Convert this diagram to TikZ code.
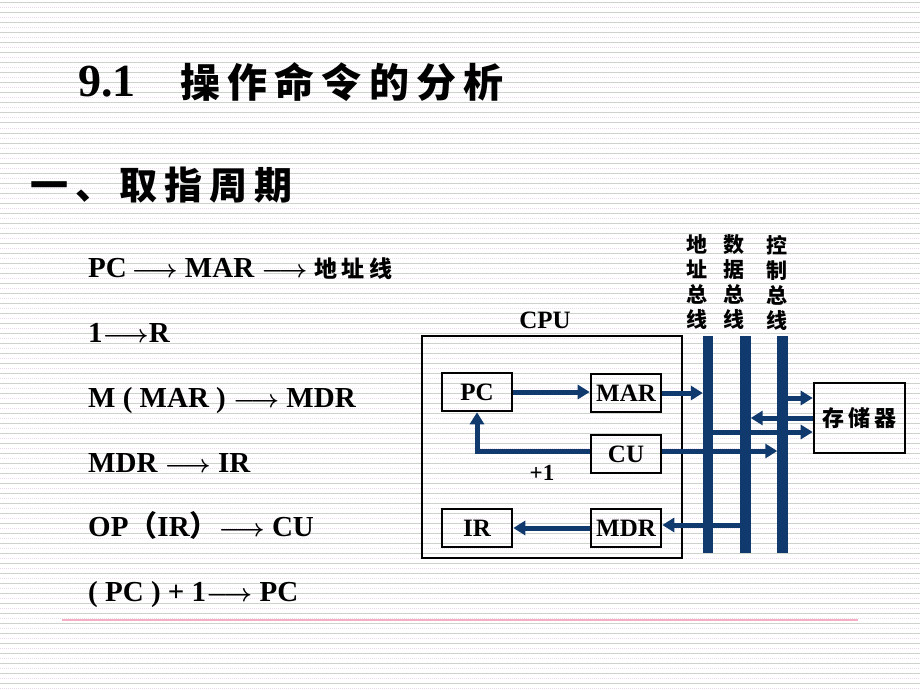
\documentclass[tikz,border=0pt]{standalone}
\usepackage{amsmath}
\usepackage{amssymb}
\usepackage{fontspec}
\setmainfont{Liberation Serif}
\newfontfamily\cjk{Noto Sans CJK SC}
\newfontfamily\cjkw{Noto Sans CJK SC}[LetterSpace=18]
\usepackage{tikz}
\usetikzlibrary{arrows.meta}
\definecolor{busblue}{RGB}{16,58,110}
\definecolor{ruleg}{RGB}{205,210,205}
\definecolor{rulep}{RGB}{238,218,238}
\definecolor{footpink}{RGB}{245,175,195}
\newcommand{\fsz}[1]{\fontsize{#1}{#1}\selectfont\bfseries}

\begin{document}
\begin{tikzpicture}[x=1pt,y=-1pt,
    reg/.style={draw,line width=2.6pt,minimum width=70pt,minimum height=38pt,inner sep=0pt,font=\fsz{25}},
    busbar/.style={minimum width=10pt,minimum height=217pt,inner sep=0pt},
    flow/.style={draw=busblue,line width=5pt,->,>={Triangle[length=12pt,width=14pt]}},
    txt/.style={anchor=base west,inner sep=0pt,font=\fsz{29}\boldmath},
    buslabel/.style={align=center,inner sep=0pt,font={\cjk\bfseries\fontsize{21}{25}\selectfont}}]
    \path[use as bounding box] (0,0) rectangle (920,690);
    \fill[white] (0,0) rectangle (920,690);
    \foreach \k in {0,...,68} {
        \draw[ruleg,line width=1pt] (0,10*\k+3) -- (920,10*\k+3);
        \draw[rulep,line width=1pt,densely dotted] (0,10*\k+8) -- (920,10*\k+8);
    }
    \draw[footpink,line width=1.2pt] (62,620) -- (858,620);
    % headings
    \node[txt,font=\fsz{46}] (T) at (78,97) {9.1};
    \node[txt,font=\cjkw\fsz{40}] (Tc) at (180,98) {操作命令的分析};
    \node[txt,font=\cjkw\fsz{38}] (S) at (30,199) {一、取指周期};
    % micro-operations
    \node[txt] (L1) at (88,277) {PC$\,\longrightarrow$ MAR $\longrightarrow$ {\cjkw\fsz{23}地址线}};
    \node[txt] (L2) at (88,342) {1$\longrightarrow$R};
    \node[txt] (L3) at (88,407) {M ( MAR ) $\longrightarrow$ MDR};
    \node[txt] (L4) at (88,472) {MDR $\longrightarrow$ IR};
    \node[txt] (L5) at (88,536) {OP{\cjk（}IR{\cjk）}$\longrightarrow$ CU};
    \node[txt] (L6) at (88,601) {( PC ) + 1$\longrightarrow$ PC};
    % cpu
    \node[draw,line width=2.6pt,minimum width=260pt,minimum height=222pt,inner sep=0pt] (cpu) at (552,447) {};
    \node[font=\fsz{25},inner sep=0pt] (cpul) at (545,320) {CPU};
    \node[reg] (PC) at (477,392) {PC};
    \node[reg] (MAR) at (626,393) {MAR};
    \node[reg] (CU) at (626,454) {CU};
    \node[reg] (IR) at (477,528) {IR};
    \node[reg] (MDR) at (626,528) {MDR};
    \node[font=\fsz{23},inner sep=0pt] (inc) at (542,473) {+1};
    \node[reg,minimum width=91pt,minimum height=70pt,font=\cjkw\fsz{22}] (M) at (859.5,418) {存储器};
    % buses
    \node[busbar] (AB) at (708,444.5) {};
    \node[busbar] (DB) at (745.5,444.5) {};
    \node[busbar] (CB) at (782.5,444.5) {};
    \node[buslabel] (ABl) at (697,282.5) {地\\址\\总\\线};
    \node[buslabel] (DBl) at (734,282.5) {数\\据\\总\\线};
    \node[buslabel] (CBl) at (777,282.5) {控\\制\\总\\线};
    \draw[flow] (PC.east) -- (PC.east -| MAR.west);
    \draw[flow] (MAR.east) -- (MAR.east -| AB.west);
    \draw[flow] ([yshift=3pt]CU.west) -| (PC.south);
    \draw[flow] ([yshift=3pt]CU.east) -- ([yshift=3pt]CU.east -| CB.west);
    \draw[flow] ([yshift=-14pt]M.west -| AB.east) -- ([yshift=-14pt]M.west);
    \draw[flow] ([yshift=20pt]M.west -| CB.east) -- ([yshift=20pt]M.west);
    \draw[flow] (M.west) -- (M.west -| DB.east);
    \draw[flow] ([yshift=3pt]MDR.east -| DB.west) -- ([yshift=3pt]MDR.east);
    \draw[flow] (MDR.west) -- (IR.east);
    \foreach \b in {AB,DB,CB}
        \fill[busblue] (\b.south west) rectangle (\b.north east);
\end{tikzpicture}
\end{document}
